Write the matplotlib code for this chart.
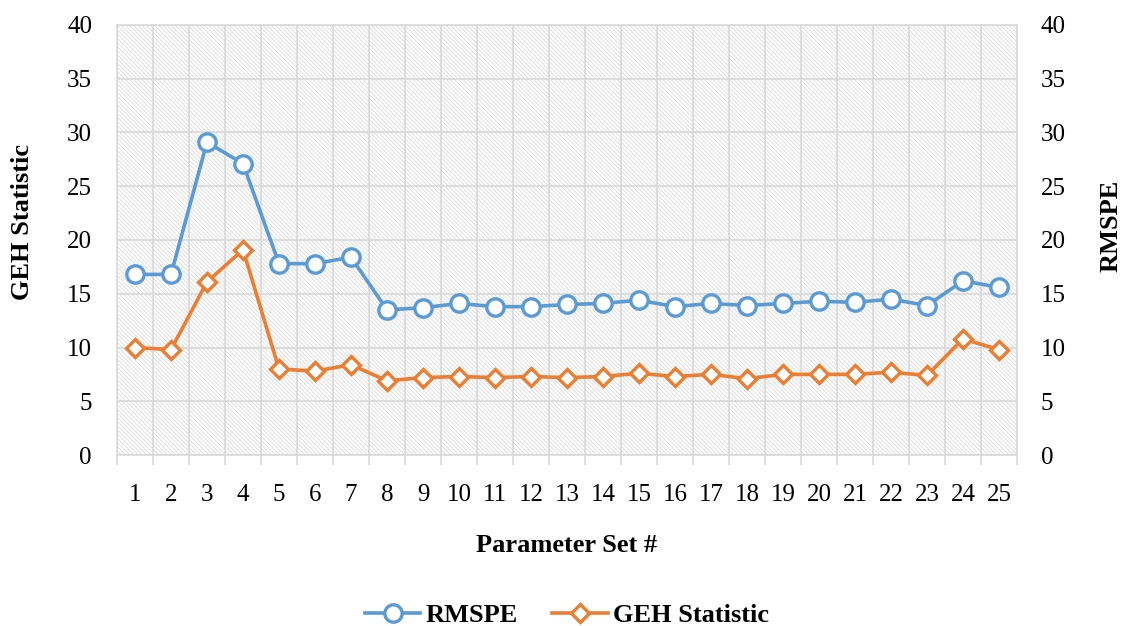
import matplotlib
matplotlib.use("Agg")
import matplotlib.pyplot as plt
from matplotlib.patches import Rectangle
import numpy as np

categories = [str(i) for i in range(1, 26)]
rmspe = [16.8, 16.8, 29.1, 27.1, 17.8, 17.8, 18.4, 13.5, 13.7, 14.1, 13.8, 13.8, 14.0,
         14.1, 14.4, 13.8, 14.1, 13.9, 14.1, 14.3, 14.2, 14.5, 13.9, 16.2, 15.6]
geh = [10.0, 9.8, 16.1, 19.1, 8.0, 7.8, 8.4, 6.9, 7.2, 7.3, 7.2, 7.3, 7.2,
       7.3, 7.6, 7.3, 7.5, 7.1, 7.5, 7.5, 7.5, 7.7, 7.4, 10.8, 9.8]
yticks = [0, 5, 10, 15, 20, 25, 30, 35, 40]

plt.rcParams['font.family'] = ['Liberation Serif', 'DejaVu Serif']
plt.rcParams['hatch.linewidth'] = 0.6

W, H = 1126, 626
fig = plt.figure(figsize=(W / 100, H / 100), dpi=100)
ax = fig.add_axes([117 / W, 1 - 455 / H, 900 / W, 430 / H])

x = np.arange(1, len(categories) + 1)
blue = '#5B9BD5'
orange = '#ED7D31'
grid_c = '#D9D9D9'

bg = Rectangle((0, 0), 1, 1, transform=ax.transAxes, facecolor='white',
               edgecolor='#DADADA', hatch='\\\\\\\\\\\\\\\\', linewidth=0, zorder=0)
ax.add_patch(bg)

ax.plot(x, rmspe, color=blue, lw=2.6, marker='o', ms=12.5, mfc='white', mec=blue,
        mew=2.4, zorder=4, label='RMSPE')
ax.plot(x, geh, color=orange, lw=2.6, marker='D', ms=9, mfc='white', mec=orange,
        mew=2.4, zorder=3, label='GEH Statistic')

ax.set_xlim(0.5, len(categories) + 0.5)
ax.set_ylim(0, 40)
ax.set_yticks(yticks)
ax.set_xticks(x)
ax.set_xticklabels(categories)
ax.set_xticks(np.arange(0.5, len(categories) + 1, 1), minor=True)
ax.tick_params(axis='x', which='major', length=0, pad=21, labelsize=18)
ax.tick_params(axis='x', which='minor', length=7, color=grid_c, width=1.2)
ax.tick_params(axis='y', length=0, pad=18, labelsize=18)
ax.grid(True, which='minor', axis='x', color=grid_c, lw=1.2, zorder=1)
ax.grid(True, which='major', axis='y', color=grid_c, lw=1.2, zorder=1)
ax.set_axisbelow(True)
for s in ax.spines.values():
    s.set_color(grid_c)
    s.set_linewidth(1.2)

ax2 = ax.twinx()
ax2.set_ylim(0, 40)
ax2.set_yticks(yticks)
ax2.tick_params(axis='y', length=0, pad=17, labelsize=18)
for s in ax2.spines.values():
    s.set_visible(False)

fig.text(23 / W, 1 - 222 / H, 'GEH Statistic', rotation=90, ha='center', va='center',
         fontsize=19, fontweight='bold')
fig.text(1111 / W, 1 - 226 / H, 'RMSPE', rotation=90, ha='center', va='center',
         fontsize=19, fontweight='bold')
fig.text(567 / W, 1 - 545 / H, 'Parameter Set #', ha='center', va='center',
         fontsize=19, fontweight='bold')

fig.legend(loc='center', bbox_to_anchor=(567 / W, 1 - 615 / H), ncol=2, frameon=False,
           prop={'weight': 'bold', 'size': 19}, handlelength=2.1, columnspacing=1.3,
           handletextpad=0.2)

fig.savefig('out.png', dpi=100)
